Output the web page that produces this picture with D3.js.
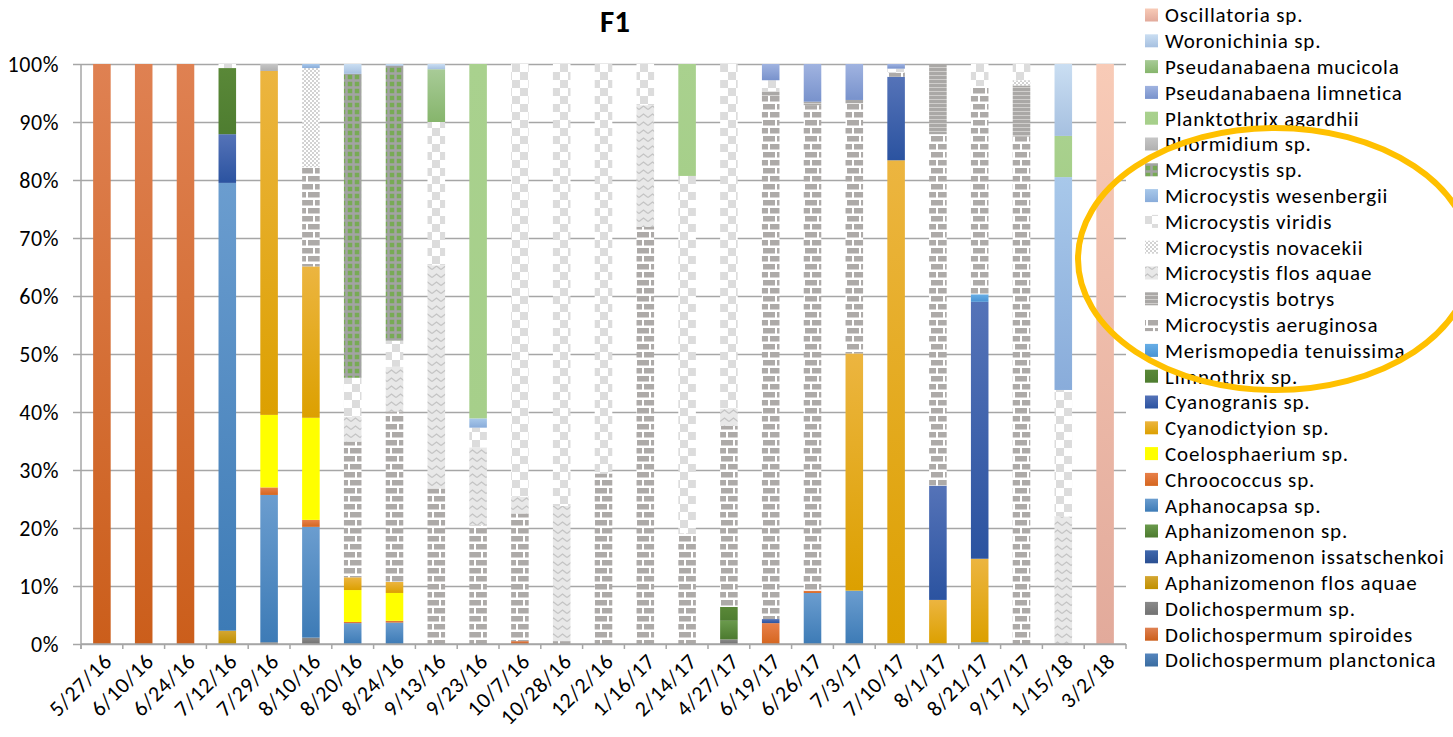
<!DOCTYPE html>
<html>
<head>
<meta charset="utf-8">
<script src="https://cdn.jsdelivr.net/npm/d3@7"></script>
<style>
  html, body { margin: 0; padding: 0; background: #fff; }
  svg { display: block; font-family: Carlito, Calibri, Lato, sans-serif; }
</style>
</head>
<body>
<div id="chart"></div>
<script>
// sampling dates
const categories = ["5/27/16","6/10/16","6/24/16","7/12/16","7/29/16","8/10/16","8/20/16","8/24/16","9/13/16","9/23/16","10/7/16","10/28/16","12/2/16","1/16/17","2/14/17","4/27/17","6/19/17","6/26/17","7/3/17","7/10/17","8/1/17","8/21/17","9/17/17","1/15/18","3/2/18"];

// relative abundance (%) per date
const dolPlanctonica   = [0,0,0,0,0,0,0,0,0,0,0,0,0,0,0,0,0,0,0,0,0,0,0,0,0];
const dolSpiroides     = [100,100,100,0,0,0,0,0,0,0,0.5,0,0,0,0,0,0,0,0,0,0,0,0,0,0];
const dolSp            = [0,0,0,0,0.3,1.1,0,0,0,0,0,0,0,0,0,0.8,0,0,0,0,0,0,0,0,0];
const aphFlosAquae     = [0,0,0,2.3,0,0,0,0,0,0,0,0,0,0,0,0,0,0,0,0,0,0,0,0,0];
const aphIssatschenkoi = [0,0,0,0,0,0,0,0,0,0,0,0,0,0,0,0,0,0,0,0,0,0,0,0,0];
const aphSp            = [0,0,0,0,0,0,0,0,0,0,0,0,0,0,0,3.2,0,0,0,0,0,0,0,0,0];
const aphanocapsa      = [0,0,0,77.2,25.4,19.1,3.6,3.7,0,0,0,0,0,0,0,0,0,8.8,9.2,0,0,0.3,0,0,0];
const chroococcus      = [0,0,0,0,1.3,1.2,0.2,0.3,0,0,0,0,0,0,0,0,3.6,0.4,0,0,0,0,0,0,0];
const coelosphaerium   = [0,0,0,0,12.5,17.6,5.5,4.8,0,0,0,0,0,0,0,0,0,0,0,0,0,0,0,0,0];
const cyanodictyion    = [0,0,0,0,59.3,26.1,2.2,1.9,0,0,0,0,0,0,0,0,0,0,40.9,83.4,7.6,14.4,0,0,0];
const cyanogranis      = [0,0,0,8.4,0,0,0,0,0,0,0,0,0,0,0,0,0.7,0,0,14.4,19.7,44.3,0,0,0];
const limnothrix       = [0,0,0,11.4,0,0,0,0,0,0,0,0,0,0,0,2.4,0,0,0,0,0,0,0,0,0];
const merismopedia     = [0,0,0,0,0,0,0,0,0,0,0,0,0,0,0,0,0,0,0,0,0,1.3,0,0,0];
const micAeruginosa    = [0,0,0,0,0,17.1,23.4,29.4,26.8,20.5,22.0,0.5,29.4,71.9,19.1,31.2,90.2,83.7,43.1,0.7,60.6,35.9,87.5,0,0];
const micBotrys        = [0,0,0,0,0,0,0,0,0,0,0,0,0,0,0,0,0.8,0.6,0.6,0,12.1,0,8.8,0,0];
const micFlosAquae     = [0,0,0,0,0,0,4.3,7.7,38.5,13.4,2.9,23.3,0,21.0,0,3.0,0,0,0,0,0,0,0,22.0,0];
const micNovacekii     = [0,0,0,0,0,17.1,0,0,0,0,0,0,0,0,0,0,0,0,0,0,0,0,0.9,0,0];
const micViridis       = [0,0,0,0.7,0,0,6.7,4.5,24.7,3.4,74.6,76.2,70.6,7.1,61.6,59.4,1.9,0,0,0.7,0,3.8,2.8,21.8,0];
const micWesenbergii   = [0,0,0,0,0,0.7,0,0,0,1.6,0,0,0,0,0,0,0,0,0,0,0,0,0,36.7,0];
const micSp            = [0,0,0,0,0,0,52.4,47.4,0,0,0,0,0,0,0,0,0,0,0,0,0,0,0,0,0];
const phormidium       = [0,0,0,0,1.2,0,0,0,0,0,0,0,0,0,0,0,0,0,0,0,0,0,0,0,0];
const planktothrix     = [0,0,0,0,0,0,0,0,0,61.1,0,0,0,0,19.3,0,0,0,0,0,0,0,0,7.1,0];
const pseLimnetica     = [0,0,0,0,0,0,0,0,0,0,0,0,0,0,0,0,2.8,6.5,6.2,0.8,0,0,0,0,0];
const pseMucicola      = [0,0,0,0,0,0,0,0,9.1,0,0,0,0,0,0,0,0,0,0,0,0,0,0,0,0];
const woronichinia     = [0,0,0,0,0,0,1.7,0.3,0.9,0,0,0,0,0,0,0,0,0,0,0,0,0,0,12.4,0];
const oscillatoria     = [0,0,0,0,0,0,0,0,0,0,0,0,0,0,0,0,0,0,0,0,0,0,0,0,100];

// stacking order, bottom to top
const series = [
  { name: "Dolichospermum planctonica", values: dolPlanctonica },
  { name: "Dolichospermum spiroides", values: dolSpiroides },
  { name: "Dolichospermum sp.", values: dolSp },
  { name: "Aphanizomenon flos aquae", values: aphFlosAquae },
  { name: "Aphanizomenon issatschenkoi", values: aphIssatschenkoi },
  { name: "Aphanizomenon sp.", values: aphSp },
  { name: "Aphanocapsa sp.", values: aphanocapsa },
  { name: "Chroococcus sp.", values: chroococcus },
  { name: "Coelosphaerium sp.", values: coelosphaerium },
  { name: "Cyanodictyion sp.", values: cyanodictyion },
  { name: "Cyanogranis sp.", values: cyanogranis },
  { name: "Limnothrix sp.", values: limnothrix },
  { name: "Merismopedia tenuissima", values: merismopedia },
  { name: "Microcystis aeruginosa", values: micAeruginosa },
  { name: "Microcystis botrys", values: micBotrys },
  { name: "Microcystis flos aquae", values: micFlosAquae },
  { name: "Microcystis novacekii", values: micNovacekii },
  { name: "Microcystis viridis", values: micViridis },
  { name: "Microcystis wesenbergii", values: micWesenbergii },
  { name: "Microcystis sp.", values: micSp },
  { name: "Phormidium sp.", values: phormidium },
  { name: "Planktothrix agardhii", values: planktothrix },
  { name: "Pseudanabaena limnetica", values: pseLimnetica },
  { name: "Pseudanabaena mucicola", values: pseMucicola },
  { name: "Woronichinia sp.", values: woronichinia },
  { name: "Oscillatoria sp.", values: oscillatoria },
];

// gradient fills [top, bottom]
const gradFills = {
  "Dolichospermum planctonica": ["#5585bd", "#3a6ca0"],
  "Dolichospermum spiroides": ["#df8152", "#cb5e1b"],
  "Dolichospermum sp.": ["#8a8a8a", "#727272"],
  "Aphanizomenon flos aquae": ["#d4a632", "#bf9000"],
  "Aphanizomenon issatschenkoi": ["#4068ad", "#2a4f92"],
  "Aphanizomenon sp.": ["#6a9a4c", "#4c7a2f"],
  "Aphanocapsa sp.": ["#6b9dcf", "#3d7bb6"],
  "Chroococcus sp.": ["#e8804a", "#d5661f"],
  "Coelosphaerium sp.": ["#ffff00", "#ffff00"],
  "Cyanodictyion sp.": ["#ecb540", "#dca000"],
  "Cyanogranis sp.": ["#5573b8", "#2b53a0"],
  "Limnothrix sp.": ["#5a8838", "#4e7d30"],
  "Merismopedia tenuissima": ["#67aee6", "#4a93d3"],
  "Microcystis wesenbergii": ["#a8c8ea", "#89acda"],
  "Phormidium sp.": ["#c6c6c6", "#b0b0b0"],
  "Planktothrix agardhii": ["#a9d18e", "#a6cf8a"],
  "Pseudanabaena limnetica": ["#a0b3e0", "#7892cc"],
  "Pseudanabaena mucicola": ["#a8cb97", "#86b56c"],
  "Woronichinia sp.": ["#cadef2", "#a6c0e0"],
  "Oscillatoria sp.": ["#f8cbb7", "#e2aa9b"],
};

const W = 1453, H = 737;
const plot = { left: 81, right: 1126, top: 64, bottom: 644 };
const FONT = "Carlito, Calibri, Lato, sans-serif";

const svg = d3.select("#chart").append("svg").attr("width", W).attr("height", H);
const defs = svg.append("defs");

const idOf = name => "f-" + name.replace(/[^a-z]/gi, "");

Object.entries(gradFills).forEach(([name, [c0, c1]]) => {
  const g = defs.append("linearGradient").attr("id", idOf(name))
    .attr("x1", 0).attr("y1", 0).attr("x2", 0).attr("y2", 1);
  g.append("stop").attr("offset", "0%").attr("stop-color", c0);
  g.append("stop").attr("offset", "100%").attr("stop-color", c1);
});

function pattern(name, w, h, bg) {
  const p = defs.append("pattern").attr("id", idOf(name))
    .attr("patternUnits", "userSpaceOnUse").attr("width", w).attr("height", h);
  p.append("rect").attr("width", w).attr("height", h).attr("fill", bg);
  return p;
}

// Microcystis aeruginosa: bricks
let p = pattern("Microcystis aeruginosa", 14, 16, "#ffffff");
p.append("rect").attr("x", 0).attr("y", 0).attr("width", 12).attr("height", 5.5).attr("fill", "#adaaa8");
p.append("rect").attr("x", 0).attr("y", 8).attr("width", 5).attr("height", 5.5).attr("fill", "#adaaa8");
p.append("rect").attr("x", 7).attr("y", 8).attr("width", 7).attr("height", 5.5).attr("fill", "#adaaa8");

// Microcystis botrys: horizontal lines
p = pattern("Microcystis botrys", 6, 4, "#aaa8a6");
p.append("rect").attr("x", 0).attr("y", 3).attr("width", 6).attr("height", 1).attr("fill", "#d0cecc");

// Microcystis flos aquae: wave
p = pattern("Microcystis flos aquae", 9, 8, "#e8e8e8");
p.append("path").attr("d", "M0,5.5 L4.5,2 L9,5.5").attr("fill", "none").attr("stroke", "#c4c4c4").attr("stroke-width", 1.3);

// Microcystis novacekii: small checker
p = pattern("Microcystis novacekii", 4, 4, "#ffffff");
p.append("rect").attr("x", 0).attr("y", 0).attr("width", 2).attr("height", 2).attr("fill", "#d2d2d2");
p.append("rect").attr("x", 2).attr("y", 2).attr("width", 2).attr("height", 2).attr("fill", "#d2d2d2");

// Microcystis viridis: large checker
p = pattern("Microcystis viridis", 16, 16, "#ffffff");
p.append("rect").attr("x", 0).attr("y", 0).attr("width", 8).attr("height", 8).attr("fill", "#dcdcdc");
p.append("rect").attr("x", 8).attr("y", 8).attr("width", 8).attr("height", 8).attr("fill", "#dcdcdc");

// Microcystis sp.: green / gray grid
p = pattern("Microcystis sp.", 7, 7, "#78aa55");
p.append("rect").attr("x", 2.25).attr("y", 0).attr("width", 2.5).attr("height", 7).attr("fill", "#a3a3a3");
p.append("rect").attr("x", 0).attr("y", 2.25).attr("width", 7).attr("height", 2.5).attr("fill", "#a3a3a3");

const fillOf = name => `url(#${idOf(name)})`;

const x = d3.scaleBand().domain(categories).range([plot.left, plot.right])
  .paddingInner(0.58).paddingOuter(0.29);
const y = d3.scaleLinear().domain([0, 1]).range([plot.bottom, plot.top]);

// gridlines + y labels
const yAxis = svg.append("g").attr("transform", `translate(${plot.left},0)`)
  .call(d3.axisLeft(y).ticks(10, ".0%").tickSizeInner(-(plot.right - plot.left)).tickSizeOuter(0).tickPadding(22));
yAxis.select(".domain").remove();
yAxis.selectAll(".tick line").attr("x1", -8).attr("stroke", "#a6a6a6").attr("stroke-width", 1.5);
yAxis.selectAll(".tick text").attr("fill", "#000").attr("font-size", 22)
  .attr("letter-spacing", 0.6).attr("font-family", FONT);

// bars
const table = categories.map((c, i) => {
  const row = { date: c };
  series.forEach(s => { row[s.name] = s.values[i]; });
  return row;
});
const stacked = d3.stack().keys(series.map(s => s.name)).offset(d3.stackOffsetExpand)(table);

svg.append("g").selectAll("g").data(stacked).join("g")
  .attr("fill", d => fillOf(d.key))
  .selectAll("rect").data(d => d.filter(v => v[1] - v[0] > 0)).join("rect")
  .attr("x", d => x(d.data.date))
  .attr("width", x.bandwidth())
  .attr("y", d => y(d[1]))
  .attr("height", d => y(d[0]) - y(d[1]));

// axis lines
svg.append("line").attr("x1", plot.left).attr("x2", plot.left).attr("y1", plot.top).attr("y2", plot.bottom + 5)
  .attr("stroke", "#a6a6a6").attr("stroke-width", 1.5);
svg.append("line").attr("x1", plot.left).attr("x2", plot.right).attr("y1", plot.bottom).attr("y2", plot.bottom)
  .attr("stroke", "#a6a6a6").attr("stroke-width", 1.5);

const step = x.step();
svg.append("g").selectAll("line").data(d3.range(categories.length + 1)).join("line")
  .attr("x1", i => plot.left + i * step).attr("x2", i => plot.left + i * step)
  .attr("y1", plot.bottom).attr("y2", plot.bottom + 5)
  .attr("stroke", "#a6a6a6").attr("stroke-width", 1.5);

const xAxis = svg.append("g").attr("transform", `translate(0,${plot.bottom})`)
  .call(d3.axisBottom(x).tickSize(0));
xAxis.select(".domain").remove();
xAxis.selectAll(".tick text")
  .attr("y", null).attr("x", null).attr("dy", "0.35em")
  .attr("transform", "translate(6,13) rotate(-45)")
  .style("text-anchor", "end")
  .attr("fill", "#000").attr("font-size", 22).attr("letter-spacing", 0.8).attr("font-family", FONT);

// title
svg.append("text").attr("x", 615).attr("y", 32).attr("text-anchor", "middle")
  .attr("font-size", 31).attr("font-weight", "bold").text("F1");

// legend, top item is the last series
const legend = svg.append("g");
series.slice().reverse().forEach((s, j) => {
  const cy = 15 + j * 25.8;
  legend.append("rect").attr("x", 1145).attr("y", cy - 6.5).attr("width", 13).attr("height", 13)
    .attr("fill", fillOf(s.name));
  legend.append("text").attr("x", 1165).attr("y", cy).attr("dy", "0.35em")
    .attr("font-size", 21).attr("letter-spacing", 0.85).attr("fill", "#000").text(s.name);
});

// highlight ellipse
svg.append("ellipse").attr("cx", 1275).attr("cy", 259).attr("rx", 197).attr("ry", 131)
  .attr("fill", "none").attr("stroke", "#ffc000").attr("stroke-width", 6);
</script>
</body>
</html>
